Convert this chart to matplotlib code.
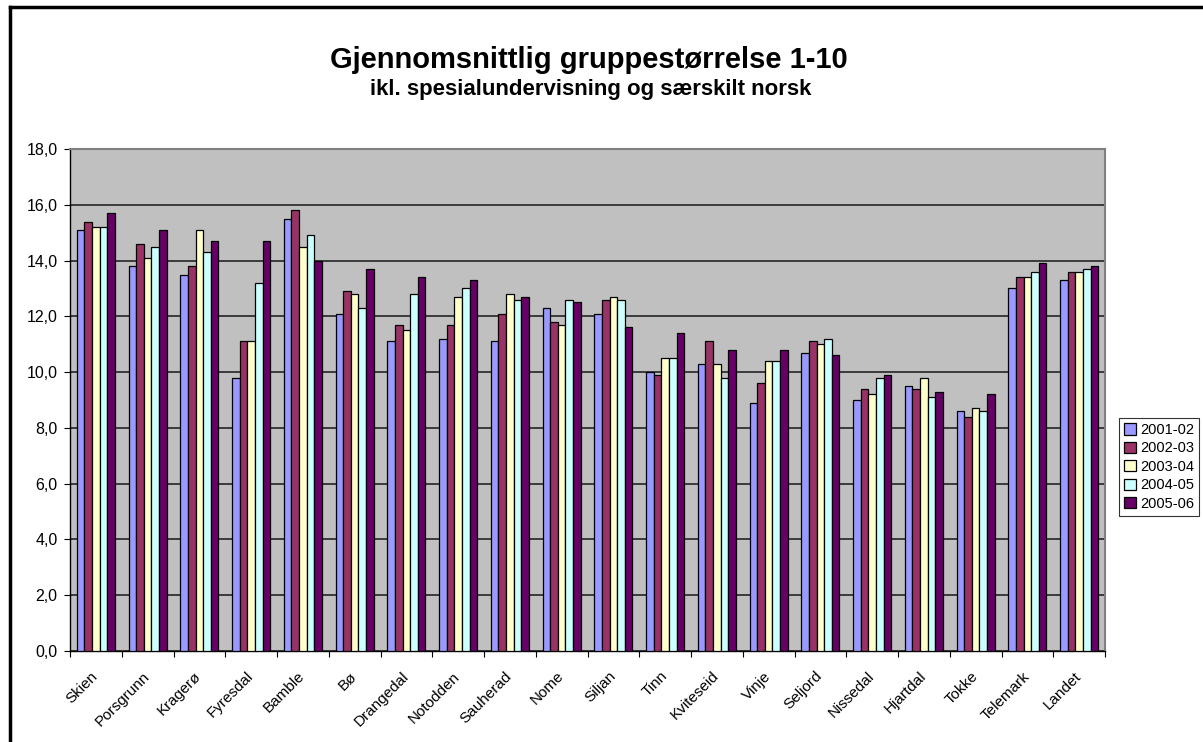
import matplotlib
matplotlib.use("Agg")
import matplotlib.pyplot as plt
from matplotlib.lines import Line2D
from matplotlib.ticker import FixedLocator, FuncFormatter
from matplotlib.transforms import ScaledTranslation
import numpy as np

# data
kommuner = ["Skien", "Porsgrunn", "Kragerø", "Fyresdal", "Bamble", "Bø",
            "Drangedal", "Notodden", "Sauherad", "Nome", "Siljan", "Tinn",
            "Kviteseid", "Vinje", "Seljord", "Nissedal", "Hjartdal", "Tokke",
            "Telemark", "Landet"]
years = ["2001-02", "2002-03", "2003-04", "2004-05", "2005-06"]

y2001 = [15.1, 13.8, 13.5, 9.8, 15.5, 12.1, 11.1, 11.2, 11.1, 12.3, 12.1, 10.0,
         10.3, 8.9, 10.7, 9.0, 9.5, 8.6, 13.0, 13.3]
y2002 = [15.4, 14.6, 13.8, 11.1, 15.8, 12.9, 11.7, 11.7, 12.1, 11.8, 12.6, 9.9,
         11.1, 9.6, 11.1, 9.4, 9.4, 8.4, 13.4, 13.6]
y2003 = [15.2, 14.1, 15.1, 11.1, 14.5, 12.8, 11.5, 12.7, 12.8, 11.7, 12.7, 10.5,
         10.3, 10.4, 11.0, 9.2, 9.8, 8.7, 13.4, 13.6]
y2004 = [15.2, 14.5, 14.3, 13.2, 14.9, 12.3, 12.8, 13.0, 12.6, 12.6, 12.6, 10.5,
         9.8, 10.4, 11.2, 9.8, 9.1, 8.6, 13.6, 13.7]
y2005 = [15.7, 15.1, 14.7, 14.7, 14.0, 13.7, 13.4, 13.3, 12.7, 12.5, 11.6, 11.4,
         10.8, 10.8, 10.6, 9.9, 9.3, 9.2, 13.9, 13.8]

series = [y2001, y2002, y2003, y2004, y2005]
colors = ["#9999FF", "#993366", "#FFFFCC", "#CCFFFF", "#660066"]

plt.rcParams["font.family"] = ["Liberation Sans", "DejaVu Sans"]

fig = plt.figure(figsize=(12.03, 7.42), dpi=100)
ax = fig.add_axes([70 / 1203, 91 / 742, 1035 / 1203, 502 / 742])
ax.set_facecolor("#C0C0C0")

x = np.arange(len(kommuner))
w = 0.147
for i, (vals, c) in enumerate(zip(series, colors)):
    ax.bar(x + (i - 2) * w, vals, width=w, color=c, edgecolor="black",
           linewidth=0.9, label=years[i], zorder=3)

ax.set_xlim(-0.5, len(kommuner) - 0.5)
ax.set_ylim(0, 18)
ax.set_yticks(np.arange(0, 18.1, 2))
ax.yaxis.set_major_formatter(FuncFormatter(lambda v, p: f"{v:.1f}".replace(".", ",")))
ax.grid(axis="y", color="#303030", linewidth=1.3, zorder=1)
ax.set_axisbelow(True)

# category ticks between groups, labels at the centres
ax.xaxis.set_major_locator(FixedLocator(np.arange(-0.5, len(kommuner), 1)))
ax.xaxis.set_major_formatter(FuncFormatter(lambda v, p: ""))
ax.set_xticks(x, minor=True)
ax.set_xticklabels(kommuner, minor=True, rotation=45, ha="right",
                   rotation_mode="anchor", fontsize=11)
ax.tick_params(axis="x", which="minor", length=0, pad=13)
ax.tick_params(axis="x", which="major", length=4, direction="out")
ax.tick_params(axis="y", length=4, direction="out", labelsize=11.5, pad=5)

shift = ScaledTranslation(-0.05, 0, fig.dpi_scale_trans)
for lab in ax.get_xticklabels(minor=True):
    lab.set_transform(lab.get_transform() + shift)

for s in ["left", "bottom"]:
    ax.spines[s].set_color("black")
    ax.spines[s].set_linewidth(1.0)
for s in ["top", "right"]:
    ax.spines[s].set_color("#808080")
    ax.spines[s].set_linewidth(1.5)

fig.text(589 / 1203, 1 - 60 / 742, "Gjennomsnittlig gruppestørrelse 1-10",
         ha="center", va="center", fontsize=21, fontweight="bold")
fig.text(591 / 1203, 1 - 89 / 742, "ikl. spesialundervisning og særskilt norsk",
         ha="center", va="center", fontsize=16, fontweight="bold")

leg = fig.legend(loc="upper left", bbox_to_anchor=(1119 / 1203, 1 - 418 / 742),
                 fontsize=10.5, frameon=True, fancybox=False, edgecolor="black",
                 handlelength=0.8, handleheight=0.8, handletextpad=0.3,
                 borderpad=0.35, labelspacing=0.3, borderaxespad=0)
leg.get_frame().set_linewidth(0.8)

# outer chart border (left and top visible)
fig.add_artist(Line2D([10 / 1203, 10 / 1203], [0, 1 - 7 / 742],
                      transform=fig.transFigure, color="black", linewidth=2.5))
fig.add_artist(Line2D([10 / 1203, 1], [1 - 7 / 742, 1 - 7 / 742],
                      transform=fig.transFigure, color="black", linewidth=2.5))

fig.savefig("out.png", dpi=100)
